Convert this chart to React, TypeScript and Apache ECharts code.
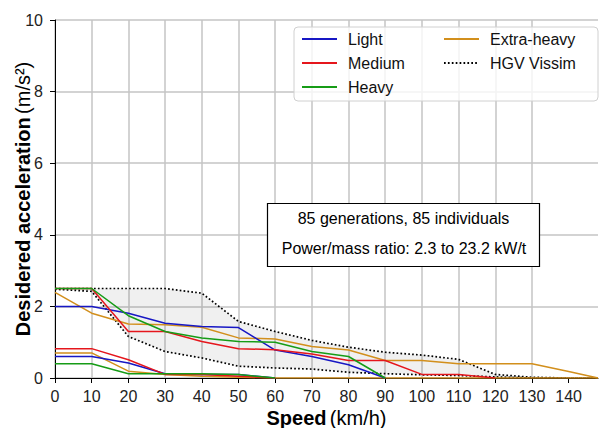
import React, { useEffect, useRef } from 'react';
import * as echarts from 'echarts';

// Speed grid (km/h) shared by all curves
const speeds = [0, 10, 20, 30, 40, 50, 60, 70, 80, 90, 100, 110, 120, 130, 140, 148];

// Desired acceleration (m/s²), upper and lower curves per vehicle class
const lightMax = [2.0, 2.0, 1.81, 1.53, 1.44, 1.41, 0.78, 0.6, 0.37, 0];
const lightMin = [0.6, 0.6, 0.42, 0.12, 0.1, 0.1, 0];
const mediumMax = [2.5, 2.5, 1.3, 1.3, 1.02, 0.82, 0.79, 0.67, 0.49, 0.49, 0.1, 0.1, 0];
const mediumMin = [0.82, 0.82, 0.51, 0.1, 0.1, 0.05, 0];
const heavyMax = [2.5, 2.5, 1.74, 1.3, 1.12, 1.02, 1.0, 0.74, 0.6, 0];
const heavyMin = [0.4, 0.4, 0.12, 0.12, 0.12, 0.1, 0];
const xheavyMax = [2.39, 1.81, 1.51, 1.49, 1.42, 1.12, 1.09, 0.88, 0.78, 0.49, 0.49, 0.4, 0.4, 0.4, 0.18, 0];
const xheavyMin = [0.7, 0.7, 0.19, 0.1, 0.05, 0.02, 0, 0, 0, 0, 0, 0, 0, 0, 0, 0];

// HGV Vissim band
const hgvUpper = [2.5, 2.5, 2.5, 2.5, 2.37, 1.58, 1.3, 1.05, 0.86, 0.72, 0.64, 0.52, 0.1, 0.02, 0, 0];
const hgvLower = [2.48, 2.42, 1.16, 0.74, 0.56, 0.33, 0.28, 0.25, 0.16, 0.12, 0.09, 0.07, 0.03, 0, 0, 0];

const xTicks = [0, 10, 20, 30, 40, 50, 60, 70, 80, 90, 100, 110, 120, 130, 140];

const FONT = 'Liberation Sans, Arial, sans-serif';
const C_LIGHT = '#1717c4';
const C_MED = '#e5161c';
const C_HEAVY = '#169c16';
const C_XH = '#d28f1c';

const pts = (vals: number[]) => vals.map((v, i) => [speeds[i], v]);

const lineSeries = (name: string, vals: number[], color: string, dash?: any) => ({
  type: 'line',
  name,
  data: pts(vals),
  symbol: 'none',
  showSymbol: false,
  z: 3,
  lineStyle: { color, width: dash ? 1.7 : 1.5, type: dash || 'solid' },
  itemStyle: { color },
});

const legendBase = {
  orient: 'vertical',
  top: 31,
  padding: 0,
  itemWidth: 35,
  itemHeight: 14,
  itemGap: 8,
  z: 6,
  itemStyle: { opacity: 0 },
  textStyle: { fontFamily: FONT, fontSize: 16, color: '#111', padding: [0, 0, 0, 6] },
};

export default function App() {
  const ref = useRef<HTMLDivElement>(null);
  useEffect(() => {
    if (!ref.current) return;
    const chart = echarts.init(ref.current, null, { renderer: 'svg' });
    const option: any = {
      animation: false,
      grid: { left: 55, right: 3, top: 20, bottom: 50, containLabel: false, outerBoundsMode: 'none' },
      xAxis: {
        type: 'value',
        min: 0,
        max: 148,
        interval: 10,
        name: '{b|Speed} {n|(km/h)}',
        nameLocation: 'middle',
        nameGap: 30,
        nameMoveOverlap: false,
        nameTextStyle: {
          rich: {
            b: { fontFamily: FONT, fontSize: 20, fontWeight: 'bold', color: '#000' },
            n: { fontFamily: FONT, fontSize: 20, color: '#000' },
          },
        },
        axisLine: { show: true, onZero: false, lineStyle: { color: '#000', width: 1 } },
        axisTick: { show: true, length: 5, lineStyle: { color: '#000' }, customValues: xTicks },
        axisLabel: { fontFamily: FONT, fontSize: 16, color: '#222', margin: 10, customValues: xTicks },
        splitLine: { show: true, showMaxLine: false, lineStyle: { color: '#c4c4c4', width: 1.5 } },
      },
      yAxis: {
        type: 'value',
        min: 0,
        max: 10,
        interval: 2,
        name: '{b|Desidered acceleration} {n|(m/s²)}',
        nameLocation: 'middle',
        nameGap: 22,
        nameMoveOverlap: false,
        nameTextStyle: {
          rich: {
            b: { fontFamily: FONT, fontSize: 20, fontWeight: 'bold', color: '#000' },
            n: { fontFamily: FONT, fontSize: 20, color: '#000' },
          },
        },
        axisLine: { show: true, lineStyle: { color: '#000', width: 1 } },
        axisTick: { show: true, length: 5, lineStyle: { color: '#000' } },
        axisLabel: { fontFamily: FONT, fontSize: 16, color: '#222', margin: 12 },
        splitLine: { show: true, lineStyle: { color: '#c4c4c4', width: 1.5 } },
      },
      legend: [
        { ...legendBase, data: ['Light', 'Medium', 'Heavy'], left: 301 },
        { ...legendBase, data: ['Extra-heavy', 'HGV Vissim'], left: 443 },
      ],
      graphic: [
        {
          type: 'rect',
          z: 5,
          shape: { x: 294, y: 27, width: 304, height: 74, r: 4 },
          style: { fill: 'rgba(255,255,255,0.8)', stroke: '#d0d0d0', lineWidth: 1 },
        },
        {
          type: 'rect',
          z: 5,
          shape: { x: 267.5, y: 203.5, width: 272, height: 63 },
          style: { fill: '#fff', stroke: '#000', lineWidth: 1.2 },
        },
        {
          type: 'text',
          z: 6,
          x: 403.5,
          y: 218,
          style: {
            text: '85 generations, 85 individuals',
            fontFamily: FONT,
            fontSize: 16,
            fill: '#000',
            align: 'center',
            verticalAlign: 'middle',
          },
        },
        {
          type: 'text',
          z: 6,
          x: 404,
          y: 248.5,
          style: {
            text: 'Power/mass ratio: 2.3 to 23.2 kW/t',
            fontFamily: FONT,
            fontSize: 16,
            fill: '#000',
            align: 'center',
            verticalAlign: 'middle',
          },
        },
      ],
      series: [
        {
          type: 'custom',
          name: 'band',
          silent: true,
          z: 1,
          data: [[0, 0]],
          renderItem: (_params: any, api: any) => {
            const top = hgvUpper.map((v, i) => api.coord([speeds[i], v]));
            const bot = hgvLower.map((v, i) => api.coord([speeds[i], v])).reverse();
            return {
              type: 'polygon',
              shape: { points: top.concat(bot) },
              style: { fill: 'rgba(0,0,0,0.06)' },
            };
          },
        },
        lineSeries('HGV Vissim', hgvUpper, '#000', [1.7, 2.2]),
        lineSeries('HGV Vissim', hgvLower, '#000', [1.7, 2.2]),
        lineSeries('Extra-heavy', xheavyMax, C_XH),
        lineSeries('Extra-heavy', xheavyMin, C_XH),
        lineSeries('Light', lightMax, C_LIGHT),
        lineSeries('Light', lightMin, C_LIGHT),
        lineSeries('Medium', mediumMax, C_MED),
        lineSeries('Medium', mediumMin, C_MED),
        lineSeries('Heavy', heavyMax, C_HEAVY),
        lineSeries('Heavy', heavyMin, C_HEAVY),
      ],
    };
    chart.setOption(option);
    return () => chart.dispose();
  }, []);
  return (
    <div
      ref={ref}
      style={{ position: 'absolute', left: 0, top: 0, width: 601, height: 428, background: '#fff' }}
    />
  );
}
